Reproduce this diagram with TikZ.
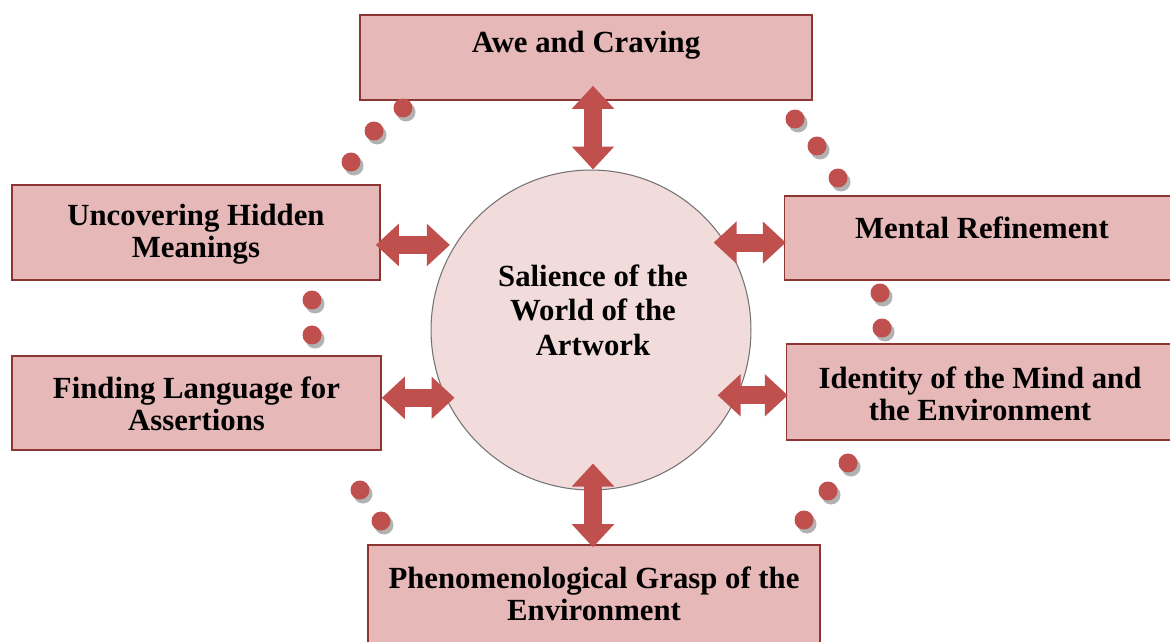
\documentclass[tikz,border=0pt]{standalone}
\usepackage{fontspec}
\setmainfont{Liberation Serif}
\usetikzlibrary{arrows.meta,calc}
\definecolor{boxfill}{HTML}{E6B8B7}
\definecolor{boxline}{HTML}{8C3533}
\definecolor{circfill}{HTML}{F2DCDB}
\definecolor{arrred}{HTML}{C0504D}
\definecolor{dotred}{HTML}{C0504D}
\tikzset{
  box/.style={draw=boxline, fill=boxfill, line width=0.9pt, inner sep=0pt},
  txt/.style={font=\bfseries\fontsize{17.5pt}{18.4pt}\selectfont, align=center, inner sep=0pt},
  dbl/.style={draw=arrred, line width=0.36cm,
    {Triangle[length=0.46cm,width=0.82cm]}-{Triangle[length=0.46cm,width=0.82cm]}},
  dotshadow/.style={fill=black!30},
  dot/.style={fill=dotred},
}
\begin{document}
\begin{tikzpicture}[x=0.02cm,y=-0.02cm]
\useasboundingbox (0,0) rectangle (1170,642);
\clip (0,0) rectangle (1170,642);
% boxes
\node[box, minimum width=9.04cm, minimum height=1.7cm] (awe) at (586,57.5) {};
\node[txt] (aweT) at (586,45) {Awe and Craving};
\node[box, minimum width=7.36cm, minimum height=1.9cm] (unc) at (196,232.5) {};
\node[txt] (uncT) at (196,234) {Uncovering Hidden\\Meanings};
\node[box, minimum width=7.9cm, minimum height=1.68cm] (men) at (982,238) {};
\node[txt] (menT) at (982,228) {Mental Refinement};
\node[box, minimum width=7.38cm, minimum height=1.88cm] (fin) at (196.5,403) {};
\node[txt] (finT) at (196.5,404) {Finding Language for\\Assertions};
\node[box, minimum width=7.86cm, minimum height=1.92cm] (ide) at (983,392) {};
\node[txt] (ideT) at (980,393.5) {Identity of the Mind and\\the Environment};
\node[box, minimum width=9.04cm, minimum height=2.3cm] (phe) at (594,602.5) {};
\node[txt] (pheT) at (594,594) {Phenomenological Grasp of the\\Environment};
% circle
\node[circle, draw=black!55, line width=0.6pt, fill=circfill, minimum size=6.4cm, inner sep=0pt] (circ) at (591,330) {};
\node[txt, font=\bfseries\fontsize{17.5pt}{19.6pt}\selectfont] (circT) at (593,310) {Salience of the\\World of the\\Artwork};
% arrows
\draw[dbl] ([xshift=0.04cm,yshift=0.3cm]circ.north |- awe.south) -- ([xshift=0.04cm]circ.north);
\draw[dbl] ([xshift=0.04cm,yshift=0.54cm]circ.south) -- ([xshift=0.04cm,yshift=-0.06cm]circ.south |- phe.north);
\draw[dbl] ([xshift=-0.1cm]unc.east |- circ.148) -- ([xshift=-0.1cm]circ.148);
\draw[dbl] (fin.east |- circ.205) -- ([xshift=0.18cm]circ.205);
\draw[dbl] ([xshift=-0.24cm]circ.33) -- ([xshift=0.04cm]men.west |- circ.33);
\draw[dbl] ([xshift=-0.4cm]circ.-24) -- ([xshift=0.04cm]ide.west |- circ.-24);
% dots
\foreach \x/\y in {403/108,374/131,351/162,795/119,817/146,838/178,312/300,312/335,880/293,882/328,360/490,381/521,848/463,828/491,804/520}{
  \fill[dotshadow] (\x+3,\y+4) circle[radius=0.19cm];
  \fill[dot] (\x,\y) circle[radius=0.19cm];
}
\end{tikzpicture}
\end{document}
